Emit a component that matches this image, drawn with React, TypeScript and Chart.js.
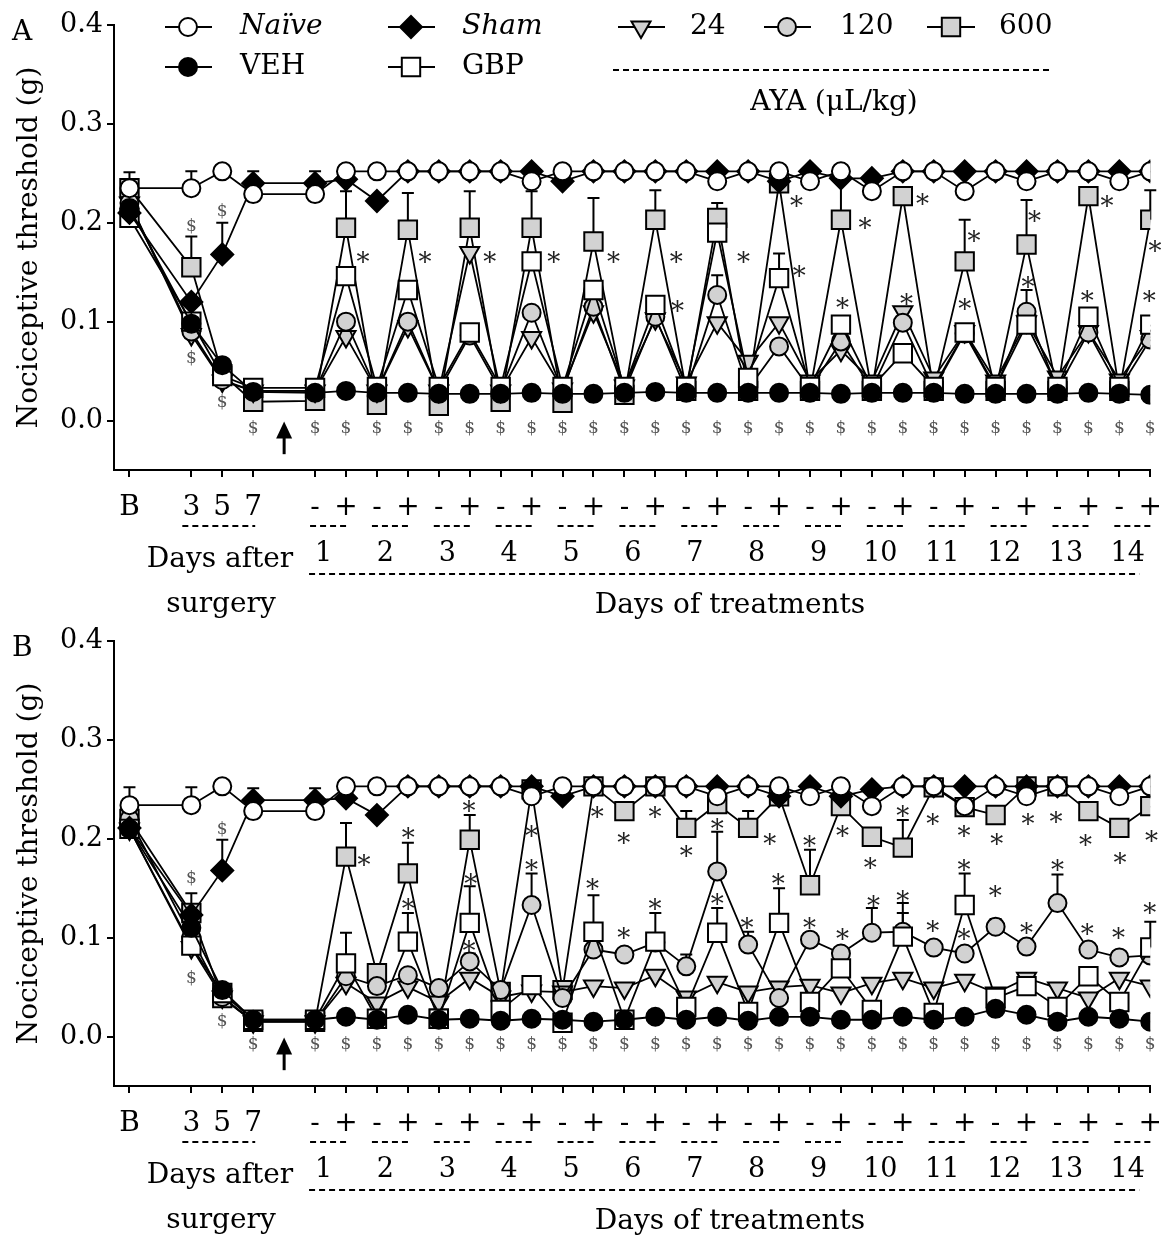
import React, { useEffect, useRef } from 'react';
import { Chart, registerables } from 'chart.js';

Chart.register(...registerables);

const FONT = '"DejaVu Serif", "Liberation Serif", serif';
const GRAY = '#d2d2d2';

// ---------------- x axis (0 = B, 2..4 = days 3,5,7 after surgery, 6..33 = treatment -/+) ----------------
const xTickPositions = [0, 2, 3, 4, 6, 7, 8, 9, 10, 11, 12, 13, 14, 15, 16, 17, 18, 19, 20, 21, 22, 23, 24, 25, 26, 27, 28, 29, 30, 31, 32, 33];
const xTickLabels = ['B', '3', '5', '7', '-', '+', '-', '+', '-', '+', '-', '+', '-', '+', '-', '+', '-', '+', '-', '+', '-', '+', '-', '+', '-', '+', '-', '+', '-', '+', '-', '+'];
const treatmentDays = ['1', '2', '3', '4', '5', '6', '7', '8', '9', '10', '11', '12', '13', '14'];
const surgeryRange = [2, 4];
const firstTreatmentIdx = 6;
const lastIdx = 33;
const arrowIdx = 5;
const arrowRange = [-0.001, -0.034];
const yTicks = [0, 0.1, 0.2, 0.3, 0.4];

// ---------------- Panel A ----------------
const naiveA = [0.235, null, 0.235, 0.252, 0.229, null, 0.229, 0.252, 0.252, 0.252, 0.252, 0.252, 0.252, 0.242, 0.252, 0.252, 0.252, 0.252, 0.252, 0.242, 0.252, 0.252, 0.242, 0.252, 0.232, 0.252, 0.252, 0.232, 0.252, 0.242, 0.252, 0.252, 0.242, 0.252];
const vehA = [0.215, null, 0.098, 0.056, 0.029, null, 0.028, 0.03, 0.028, 0.028, 0.027, 0.027, 0.027, 0.028, 0.027, 0.027, 0.028, 0.029, 0.028, 0.028, 0.028, 0.028, 0.028, 0.027, 0.028, 0.028, 0.028, 0.027, 0.027, 0.027, 0.027, 0.028, 0.027, 0.026];
const shamA = [0.21, null, 0.12, 0.168, 0.24, null, 0.24, 0.244, 0.222, 0.252, 0.252, 0.252, 0.252, 0.252, 0.242, 0.252, 0.252, 0.252, 0.252, 0.252, 0.252, 0.242, 0.252, 0.245, 0.245, 0.252, 0.252, 0.252, 0.252, 0.252, 0.252, 0.252, 0.252, 0.252];
const gbpA = [0.205, null, 0.1, 0.045, 0.033, null, 0.033, 0.146, 0.034, 0.132, 0.034, 0.089, 0.034, 0.161, 0.034, 0.132, 0.034, 0.117, 0.034, 0.19, 0.043, 0.144, 0.034, 0.097, 0.034, 0.068, 0.034, 0.089, 0.034, 0.097, 0.034, 0.105, 0.034, 0.097];
const d24A = [0.22, null, 0.087, 0.04, 0.03, null, 0.03, 0.085, 0.03, 0.095, 0.03, 0.17, 0.03, 0.084, 0.032, 0.11, 0.035, 0.103, 0.038, 0.099, 0.06, 0.099, 0.04, 0.071, 0.04, 0.11, 0.043, 0.09, 0.04, 0.1, 0.044, 0.09, 0.041, 0.085];
const d120A = [0.22, null, 0.09, 0.041, 0.03, null, 0.03, 0.1, 0.03, 0.1, 0.03, 0.086, 0.03, 0.109, 0.03, 0.115, 0.03, 0.105, 0.03, 0.127, 0.032, 0.075, 0.032, 0.08, 0.032, 0.099, 0.032, 0.088, 0.032, 0.11, 0.032, 0.089, 0.032, 0.082];
const d600A = [0.235, null, 0.155, 0.047, 0.019, null, 0.02, 0.195, 0.016, 0.193, 0.015, 0.195, 0.019, 0.195, 0.018, 0.181, 0.026, 0.203, 0.03, 0.205, 0.03, 0.24, 0.03, 0.203, 0.03, 0.227, 0.03, 0.161, 0.03, 0.178, 0.03, 0.227, 0.03, 0.203];

// error bars (upper SEM) as [position, sem]
const naiveErrA = [[0, 0.016], [2, 0.017]];
const vehErrA = [[0, 0.01]];
const shamErrA = [[3, 0.032], [4, 0.012], [6, 0.012]];
const gbpErrA = [[0, 0.012], [21, 0.025]];
const d24ErrA = [[11, 0.005]];
const d120ErrA = [[19, 0.02], [29, 0.022]];
const d600ErrA = [[2, 0.031], [7, 0.037], [9, 0.037], [11, 0.037], [13, 0.037], [15, 0.044], [17, 0.03], [19, 0.015], [23, 0.04], [27, 0.042], [29, 0.045], [33, 0.03]];

const starsA = [[7.55, 0.166], [9.55, 0.166], [11.65, 0.166], [13.72, 0.166], [15.65, 0.166], [17.68, 0.166], [17.72, 0.117], [19.85, 0.166], [21.56, 0.223], [21.65, 0.152], [23.78, 0.201], [23.05, 0.12], [25.64, 0.225], [25.12, 0.124], [27.3, 0.188], [27.0, 0.119], [29.26, 0.208], [29.05, 0.141], [31.6, 0.223], [30.96, 0.127], [33.15, 0.178], [32.97, 0.127]];
const dollarsA = [[2, 0.196], [2, 0.063], [3, 0.211], [3, 0.018], [4, -0.008], [6, -0.008], [7, -0.008], [8, -0.008], [9, -0.008], [10, -0.008], [11, -0.008], [12, -0.008], [13, -0.008], [14, -0.008], [15, -0.008], [16, -0.008], [17, -0.008], [18, -0.008], [19, -0.008], [20, -0.008], [21, -0.008], [22, -0.008], [23, -0.008], [24, -0.008], [25, -0.008], [26, -0.008], [27, -0.008], [28, -0.008], [29, -0.008], [30, -0.008], [31, -0.008], [32, -0.008], [33, -0.008]];

// ---------------- Panel B ----------------
const naiveB = [0.234, null, 0.234, 0.253, 0.228, null, 0.228, 0.253, 0.253, 0.253, 0.253, 0.253, 0.253, 0.243, 0.253, 0.253, 0.253, 0.253, 0.253, 0.243, 0.253, 0.253, 0.243, 0.253, 0.233, 0.253, 0.253, 0.233, 0.253, 0.243, 0.253, 0.253, 0.243, 0.253];
const vehB = [0.21, null, 0.11, 0.047, 0.017, null, 0.017, 0.02, 0.017, 0.022, 0.017, 0.018, 0.016, 0.018, 0.017, 0.015, 0.017, 0.02, 0.017, 0.02, 0.016, 0.02, 0.02, 0.017, 0.017, 0.02, 0.017, 0.02, 0.028, 0.022, 0.015, 0.02, 0.018, 0.015];
const shamB = [0.211, null, 0.123, 0.168, 0.239, null, 0.239, 0.241, 0.224, 0.253, 0.253, 0.253, 0.253, 0.253, 0.243, 0.253, 0.253, 0.253, 0.253, 0.253, 0.253, 0.243, 0.253, 0.243, 0.25, 0.253, 0.253, 0.253, 0.253, 0.253, 0.253, 0.253, 0.253, 0.253];
const gbpB = [0.21, null, 0.092, 0.044, 0.017, null, 0.017, 0.074, 0.018, 0.096, 0.018, 0.115, 0.027, 0.052, 0.014, 0.106, 0.017, 0.096, 0.03, 0.105, 0.025, 0.115, 0.035, 0.069, 0.027, 0.101, 0.024, 0.133, 0.039, 0.051, 0.03, 0.061, 0.035, 0.09];
const d24B = [0.21, null, 0.09, 0.04, 0.015, null, 0.015, 0.054, 0.034, 0.05, 0.035, 0.059, 0.04, 0.046, 0.045, 0.051, 0.049, 0.062, 0.04, 0.055, 0.045, 0.05, 0.052, 0.044, 0.054, 0.059, 0.049, 0.057, 0.044, 0.059, 0.049, 0.039, 0.059, 0.051];
const d120B = [0.22, null, 0.1, 0.04, 0.015, null, 0.015, 0.061, 0.051, 0.062, 0.049, 0.076, 0.047, 0.133, 0.039, 0.088, 0.083, 0.095, 0.071, 0.167, 0.093, 0.039, 0.098, 0.084, 0.105, 0.106, 0.09, 0.084, 0.111, 0.091, 0.135, 0.088, 0.08, 0.082];
const d600B = [0.22, null, 0.125, 0.039, 0.015, null, 0.015, 0.182, 0.064, 0.165, 0.018, 0.199, 0.045, 0.25, 0.047, 0.253, 0.228, 0.253, 0.211, 0.235, 0.211, 0.243, 0.153, 0.233, 0.202, 0.191, 0.252, 0.232, 0.224, 0.253, 0.253, 0.228, 0.211, 0.233];

const naiveErrB = [[0, 0.018], [2, 0.018]];
const vehErrB = [[0, 0.01]];
const shamErrB = [[3, 0.031], [4, 0.012], [6, 0.012]];
const gbpErrB = [[7, 0.031], [9, 0.029], [11, 0.037], [15, 0.037], [17, 0.029], [19, 0.025], [21, 0.035], [25, 0.024], [27, 0.032], [33, 0.026]];
const d24ErrB = [[17, 0.004]];
const d120ErrB = [[11, 0.008], [13, 0.032], [18, 0.012], [19, 0.04], [20, 0.013], [24, 0.025], [25, 0.029], [28, 0.008], [30, 0.029]];
const d600ErrB = [[2, 0.02], [7, 0.034], [9, 0.031], [11, 0.025], [18, 0.017], [20, 0.017], [22, 0.036], [25, 0.028]];

const starsB = [[7.58, 0.18], [9.01, 0.207], [9.01, 0.135], [10.98, 0.234], [11.03, 0.16], [10.98, 0.093], [13.0, 0.209], [13.0, 0.174], [15.12, 0.228], [14.97, 0.155], [15.98, 0.202], [15.98, 0.106], [16.99, 0.228], [16.99, 0.135], [18.0, 0.189], [19.0, 0.216], [19.0, 0.14], [19.96, 0.116], [20.7, 0.201], [20.97, 0.16], [21.98, 0.199], [23.05, 0.209], [23.95, 0.177], [25.0, 0.229], [25.97, 0.221], [26.98, 0.209], [28.04, 0.201], [29.05, 0.221], [29.95, 0.223], [30.91, 0.2], [32.02, 0.182], [33.04, 0.204], [21.98, 0.116], [23.05, 0.105], [24.05, 0.138], [25.0, 0.143], [25.97, 0.113], [26.98, 0.175], [26.98, 0.105], [27.99, 0.148], [29.0, 0.111], [30.0, 0.174], [30.96, 0.11], [31.97, 0.106], [32.98, 0.131]];
const dollarsB = [[2, 0.16], [2, 0.059], [3, 0.209], [3, 0.015], [4, -0.008], [6, -0.008], [7, -0.008], [8, -0.008], [9, -0.008], [10, -0.008], [11, -0.008], [12, -0.008], [13, -0.008], [14, -0.008], [15, -0.008], [16, -0.008], [17, -0.008], [18, -0.008], [19, -0.008], [20, -0.008], [21, -0.008], [22, -0.008], [23, -0.008], [24, -0.008], [25, -0.008], [26, -0.008], [27, -0.008], [28, -0.008], [29, -0.008], [30, -0.008], [31, -0.008], [32, -0.008], [33, -0.008]];

// ---------------- styles ----------------
const STYLES: Record<string, any> = {
  naive: { label: 'Naïve', italic: true, pointStyle: 'circle', fill: '#ffffff', radius: 9, rotation: 0, order: 1 },
  veh: { label: 'VEH', italic: false, pointStyle: 'circle', fill: '#000000', radius: 9, rotation: 0, order: 0 },
  sham: { label: 'Sham', italic: true, pointStyle: 'rectRot', fill: '#000000', radius: 11, rotation: 0, order: 2 },
  gbp: { label: 'GBP', italic: false, pointStyle: 'rect', fill: '#ffffff', radius: 13, rotation: 0, order: 3 },
  d24: { label: '24', italic: false, pointStyle: 'triangle', fill: GRAY, radius: 11, rotation: 180, order: 5 },
  d120: { label: '120', italic: false, pointStyle: 'circle', fill: GRAY, radius: 9, rotation: 0, order: 4 },
  d600: { label: '600', italic: false, pointStyle: 'rect', fill: GRAY, radius: 13, rotation: 0, order: 6 },
};

// legend layout (panel A only): [key, lineStart, lineEnd, marker, textX, row]
const LEGEND_LAYOUT: [string, number, number, number, number, number][] = [
  ['naive', 165, 212, 188, 240, 0],
  ['veh', 165, 212, 188, 240, 1],
  ['sham', 388, 435, 411, 462, 0],
  ['gbp', 388, 435, 411, 462, 1],
  ['d24', 618, 665, 641, 690, 0],
  ['d120', 764, 811, 787, 840, 0],
  ['d600', 927, 975, 951, 999, 0],
];

function toArr(pairs: number[][]) {
  const a: (number | null)[] = new Array(lastIdx + 1).fill(null);
  pairs.forEach(([i, e]) => { a[i] = e; });
  return a;
}

function makeDataset(key: string, values: (number | null)[], errs: number[][]) {
  const s = STYLES[key];
  return {
    label: s.label,
    data: values.map((v, i) => ({ x: i, y: v })),
    errors: toArr(errs),
    borderColor: '#000',
    borderWidth: 1.8,
    backgroundColor: s.fill,
    pointBackgroundColor: s.fill,
    pointBorderColor: '#000',
    pointBorderWidth: 2,
    pointRadius: s.radius,
    pointHoverRadius: s.radius,
    pointStyle: s.pointStyle,
    pointRotation: s.rotation,
    spanGaps: true,
    tension: 0,
    fill: false,
    order: s.order,
  };
}

function drawMarker(ctx: CanvasRenderingContext2D, style: string, x: number, y: number, r: number, fill: string) {
  ctx.beginPath();
  if (style === 'circle') ctx.arc(x, y, r, 0, Math.PI * 2);
  else if (style === 'rect') { const s = r * Math.SQRT1_2; ctx.rect(x - s, y - s, 2 * s, 2 * s); }
  else if (style === 'rectRot') { ctx.moveTo(x, y - r); ctx.lineTo(x + r, y); ctx.lineTo(x, y + r); ctx.lineTo(x - r, y); ctx.closePath(); }
  else if (style === 'triangle') { ctx.moveTo(x - r * 0.866, y - r * 0.5); ctx.lineTo(x + r * 0.866, y - r * 0.5); ctx.lineTo(x, y + r); ctx.closePath(); }
  ctx.fillStyle = fill;
  ctx.fill();
  ctx.lineWidth = 2;
  ctx.strokeStyle = '#000';
  ctx.stroke();
}

const errorBarPlugin = {
  id: 'errorBars',
  beforeDatasetsDraw(chart: any) {
    const { ctx } = chart;
    const xs = chart.scales.x, ys = chart.scales.y;
    ctx.save();
    ctx.strokeStyle = '#000';
    ctx.lineWidth = 2;
    chart.data.datasets.forEach((ds: any) => {
      const errs = ds.errors;
      if (!errs) return;
      ds.data.forEach((p: any, i: number) => {
        const e = errs[i];
        if (e == null || p.y == null) return;
        const px = xs.getPixelForValue(p.x);
        const py0 = ys.getPixelForValue(p.y);
        const py1 = ys.getPixelForValue(p.y + e);
        ctx.beginPath();
        ctx.moveTo(px, py0);
        ctx.lineTo(px, py1);
        ctx.moveTo(px - 6, py1);
        ctx.lineTo(px + 6, py1);
        ctx.stroke();
      });
    });
    ctx.restore();
  },
};

function dashed(ctx: CanvasRenderingContext2D, x1: number, x2: number, y: number) {
  ctx.save();
  ctx.setLineDash([6, 4]);
  ctx.lineWidth = 2;
  ctx.strokeStyle = '#000';
  ctx.beginPath();
  ctx.moveTo(x1, y);
  ctx.lineTo(x2, y);
  ctx.stroke();
  ctx.restore();
}

const annotPlugin = {
  id: 'annot',
  afterDatasetsDraw(chart: any, _args: any, opts: any) {
    const { ctx, chartArea } = chart;
    const xs = chart.scales.x, ys = chart.scales.y;
    const px = (v: number) => xs.getPixelForValue(v);
    const py = (v: number) => ys.getPixelForValue(v);
    ctx.save();

    // stars
    ctx.fillStyle = '#222';
    ctx.font = `26px ${FONT}`;
    ctx.textAlign = 'center';
    ctx.textBaseline = 'alphabetic';
    (opts.stars || []).forEach(([x, y]: number[]) => ctx.fillText('*', px(x), py(y) + 15));

    // dollars
    ctx.fillStyle = '#555';
    ctx.font = `17px ${FONT}`;
    ctx.textBaseline = 'middle';
    (opts.dollars || []).forEach(([x, y]: number[]) => ctx.fillText('$', px(x), py(y)));

    // arrow (start of treatment)
    const ax = px(arrowIdx), tip = py(arrowRange[0]), tail = py(arrowRange[1]);
    ctx.strokeStyle = '#000';
    ctx.fillStyle = '#000';
    ctx.lineWidth = 3;
    ctx.beginPath();
    ctx.moveTo(ax, tail);
    ctx.lineTo(ax, tip + 14);
    ctx.stroke();
    ctx.beginPath();
    ctx.moveTo(ax, tip);
    ctx.lineTo(ax - 8, tip + 17);
    ctx.lineTo(ax + 8, tip + 17);
    ctx.closePath();
    ctx.fill();

    // x-axis grouping annotations
    const b = chartArea.bottom;
    dashed(ctx, px(surgeryRange[0]) - 9, px(surgeryRange[1]) + 2, b + 56);
    ctx.fillStyle = '#000';
    ctx.font = `27px ${FONT}`;
    ctx.textAlign = 'center';
    ctx.textBaseline = 'middle';
    treatmentDays.forEach((d, k) => {
      const xm = px(firstTreatmentIdx + 2 * k), xp = px(firstTreatmentIdx + 2 * k + 1);
      dashed(ctx, xm - 5, xp + 2, b + 56);
      ctx.fillText(d, (xm + xp) / 2 - 7, b + 84);
    });
    dashed(ctx, px(firstTreatmentIdx) - 6, px(lastIdx) - 11, b + 104);
    ctx.font = `28px ${FONT}`;
    ctx.fillText('Days after', 220, b + 90);
    ctx.fillText('surgery', 221, b + 135);
    ctx.fillText('Days of treatments', 730, b + 136);

    // y title
    ctx.save();
    ctx.translate(30, (chartArea.top + chartArea.bottom) / 2);
    ctx.rotate(-Math.PI / 2);
    ctx.fillText('Nociceptive threshold (g)', 0, 0);
    ctx.restore();

    // panel letter
    ctx.textAlign = 'left';
    ctx.fillText(opts.panel, 12, chartArea.top + 8);

    // legend
    if (opts.legend) {
      const rows = [27, 67];
      LEGEND_LAYOUT.forEach(([key, l1, l2, m, tx, row]) => {
        const s = STYLES[key];
        const y = rows[row];
        ctx.strokeStyle = '#000';
        ctx.lineWidth = 1.8;
        ctx.beginPath();
        ctx.moveTo(l1, y);
        ctx.lineTo(l2, y);
        ctx.stroke();
        drawMarker(ctx, s.pointStyle, m, y, s.radius, s.fill);
        ctx.fillStyle = '#000';
        ctx.font = `${s.italic ? 'italic ' : ''}28px ${FONT}`;
        ctx.textAlign = 'left';
        ctx.textBaseline = 'middle';
        ctx.fillText(s.label, tx, y);
      });
      dashed(ctx, 613, 1051, 70);
      ctx.font = `28px ${FONT}`;
      ctx.textAlign = 'center';
      ctx.fillStyle = '#000';
      ctx.fillText('AYA (μL/kg)', 834, 103);
    }
    ctx.restore();
  },
};

function buildConfig(datasets: any[], height: number, annot: any) {
  return {
    type: 'line',
    data: { datasets },
    options: {
      responsive: false,
      animation: false,
      devicePixelRatio: 1,
      layout: { padding: { top: 25, right: 12, left: 0, bottom: 0 } },
      plugins: { legend: { display: false }, tooltip: { enabled: false }, annot },
      scales: {
        x: {
          type: 'linear',
          min: -0.5,
          max: lastIdx,
          afterFit: (s: any) => { s.height = height - 470; },
          afterBuildTicks: (s: any) => { s.ticks = xTickPositions.map((v) => ({ value: v })); },
          ticks: {
            autoSkip: false,
            maxRotation: 0,
            minRotation: 0,
            padding: 14,
            color: '#000',
            font: { family: FONT, size: 28 },
            callback: (v: any) => xTickLabels[xTickPositions.indexOf(Number(v))] ?? '',
          },
          grid: { drawOnChartArea: false, drawTicks: true, tickLength: 7, color: '#000', lineWidth: 2 },
          border: { display: true, color: '#000', width: 2 },
        },
        y: {
          min: -0.05,
          max: 0.4,
          afterFit: (s: any) => { s.width = 114; },
          afterBuildTicks: (s: any) => { s.ticks = yTicks.map((v) => ({ value: v })); },
          ticks: {
            padding: 4,
            color: '#000',
            font: { family: FONT, size: 27 },
            callback: (v: any) => Number(v).toFixed(1),
          },
          grid: { drawOnChartArea: false, drawTicks: true, tickLength: 7, color: '#000', lineWidth: 2 },
          border: { display: true, color: '#000', width: 2 },
        },
      },
    },
    plugins: [errorBarPlugin, annotPlugin],
  };
}

function ChartPanel({ datasets, top, height, annot }: { datasets: any[]; top: number; height: number; annot: any }) {
  const ref = useRef<HTMLCanvasElement | null>(null);
  useEffect(() => {
    if (!ref.current) return;
    const chart = new Chart(ref.current, buildConfig(datasets, height, annot) as any);
    return () => chart.destroy();
  }, []);
  return (
    <canvas
      ref={ref}
      width={1176}
      height={height}
      style={{ position: 'absolute', left: 0, top, width: 1176, height }}
    />
  );
}

export default function App() {
  const dsA = [
    makeDataset('naive', naiveA, naiveErrA),
    makeDataset('veh', vehA, vehErrA),
    makeDataset('sham', shamA, shamErrA),
    makeDataset('gbp', gbpA, gbpErrA),
    makeDataset('d24', d24A, d24ErrA),
    makeDataset('d120', d120A, d120ErrA),
    makeDataset('d600', d600A, d600ErrA),
  ];
  const dsB = [
    makeDataset('naive', naiveB, naiveErrB),
    makeDataset('veh', vehB, vehErrB),
    makeDataset('sham', shamB, shamErrB),
    makeDataset('gbp', gbpB, gbpErrB),
    makeDataset('d24', d24B, d24ErrB),
    makeDataset('d120', d120B, d120ErrB),
    makeDataset('d600', d600B, d600ErrB),
  ];
  return (
    <div style={{ position: 'absolute', left: 0, top: 0, width: 1176, height: 1239, background: '#fff', overflow: 'hidden' }}>
      <ChartPanel datasets={dsA} top={0} height={622} annot={{ stars: starsA, dollars: dollarsA, legend: true, panel: 'A' }} />
      <ChartPanel datasets={dsB} top={616} height={623} annot={{ stars: starsB, dollars: dollarsB, legend: false, panel: 'B' }} />
    </div>
  );
}
